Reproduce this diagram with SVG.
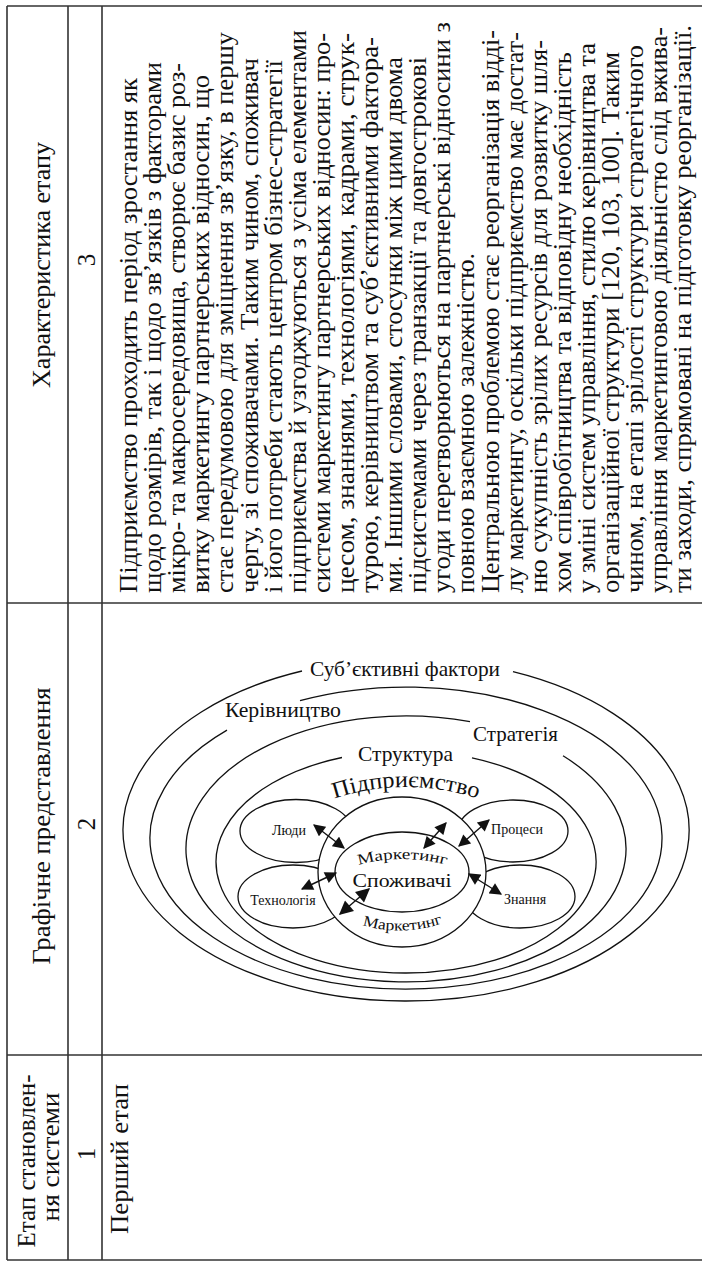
<svg xmlns="http://www.w3.org/2000/svg" width="702" height="1261" viewBox="0 0 702 1261">
  <style>
    .grid { stroke: #333; stroke-width: 1.6; fill: none; }
    .t { font-family: 'Liberation Serif', 'Times New Roman', serif; fill: #111; }
    .body { font-size: 25px; }
    .hdr { font-size: 25px; }
    .ring { fill: none; stroke: #111; stroke-width: 1.3; }
    .blob { fill: #fff; stroke: #111; stroke-width: 1.3; }
    .lbl { font-family: 'Liberation Serif', 'Times New Roman', serif; fill: #111; }
    .arrow { stroke: #111; stroke-width: 1.4; fill: none; marker-start: url(#head); marker-end: url(#head); }
    .arrow-big { stroke: #111; stroke-width: 1.4; fill: none; marker-start: url(#headBig); marker-end: url(#headBig); }
  </style>
  <defs>
    <marker id="head" viewBox="0 0 10 10" refX="9" refY="5" markerUnits="userSpaceOnUse" markerWidth="13" markerHeight="12" orient="auto-start-reverse">
      <path d="M0,0 L10,5 L0,10 z" fill="#111"/>
    </marker>
    <marker id="headBig" viewBox="0 0 10 10" refX="9" refY="5" markerUnits="userSpaceOnUse" markerWidth="15" markerHeight="14" orient="auto-start-reverse">
      <path d="M0,0 L10,5 L0,10 z" fill="#111"/>
    </marker>
    <path id="arcEnterprise" d="M330,800 Q405,774 482,800"/>
    <path id="arcMarkTop" d="M355,866 Q402,852 450,866"/>
    <path id="arcMarkBottom" d="M359,924 Q402,938 446,922"/>
  </defs>

  <!-- table frame -->
  <g id="table-grid" class="grid">
    <line x1="7" y1="6" x2="702" y2="6"/>
    <line x1="7" y1="6" x2="7" y2="1260"/>
    <line x1="68" y1="6" x2="68" y2="1260"/>
    <line x1="102" y1="6" x2="102" y2="1260"/>
    <line x1="7" y1="603" x2="702" y2="603"/>
    <line x1="7" y1="1055" x2="702" y2="1055"/>
    <line x1="7" y1="1260" x2="702" y2="1260"/>
  </g>

  <!-- header row (rotated) -->
  <g id="headers" class="t hdr" text-anchor="middle">
    <text transform="translate(50,265) rotate(-90)" textLength="246" lengthAdjust="spacingAndGlyphs">Характеристика етапу</text>
    <text transform="translate(50,826) rotate(-90)" textLength="277" lengthAdjust="spacingAndGlyphs">Графічне представлення</text>
    <text transform="translate(35,1161) rotate(-90)" textLength="173" lengthAdjust="spacingAndGlyphs">Етап становлен-</text>
    <text transform="translate(59,1157) rotate(-90)" textLength="129" lengthAdjust="spacingAndGlyphs">ня системи</text>
  </g>

  <!-- column numbers -->
  <g id="numbers" class="t hdr" text-anchor="middle">
    <text transform="translate(95,260) rotate(-90)">3</text>
    <text transform="translate(95,824) rotate(-90)">2</text>
    <text transform="translate(95,1154) rotate(-90)">1</text>
  </g>

  <!-- stage name -->
  <g id="stage" class="t body">
    <text transform="translate(128,1234) rotate(-90)" textLength="150" lengthAdjust="spacingAndGlyphs">Перший етап</text>
  </g>

  <!-- stage description -->
  <g id="description" class="t body">
    <text transform="translate(137,593) rotate(-90)" textLength="515" lengthAdjust="spacingAndGlyphs">Підприємство проходить період зростання як</text>
    <text transform="translate(161.1,593) rotate(-90)" textLength="531" lengthAdjust="spacingAndGlyphs">щодо розмірів, так і щодо зв’язків з факторами</text>
    <text transform="translate(185.2,593) rotate(-90)" textLength="530" lengthAdjust="spacingAndGlyphs">мікро- та макросередовища, створює базис роз-</text>
    <text transform="translate(209.3,593) rotate(-90)" textLength="518" lengthAdjust="spacingAndGlyphs">витку маркетингу партнерських відносин, що</text>
    <text transform="translate(233.4,593) rotate(-90)" textLength="561" lengthAdjust="spacingAndGlyphs">стає передумовою для зміцнення зв’язку, в першу</text>
    <text transform="translate(257.5,593) rotate(-90)" textLength="535" lengthAdjust="spacingAndGlyphs">чергу, зі споживачами. Таким чином, споживач</text>
    <text transform="translate(281.6,593) rotate(-90)" textLength="533" lengthAdjust="spacingAndGlyphs">і його потреби стають центром бізнес-стратегії</text>
    <text transform="translate(305.7,593) rotate(-90)" textLength="563" lengthAdjust="spacingAndGlyphs">підприємства й узгоджуються з усіма елементами</text>
    <text transform="translate(329.8,593) rotate(-90)" textLength="560" lengthAdjust="spacingAndGlyphs">системи маркетингу партнерських відносин: про-</text>
    <text transform="translate(353.9,593) rotate(-90)" textLength="560" lengthAdjust="spacingAndGlyphs">цесом, знаннями, технологіями, кадрами, струк-</text>
    <text transform="translate(378,593) rotate(-90)" textLength="556" lengthAdjust="spacingAndGlyphs">турою, керівництвом та суб’єктивними фактора-</text>
    <text transform="translate(402.1,593) rotate(-90)" textLength="536" lengthAdjust="spacingAndGlyphs">ми. Іншими словами, стосунки між цими двома</text>
    <text transform="translate(426.2,593) rotate(-90)" textLength="536" lengthAdjust="spacingAndGlyphs">підсистемами через транзакції та довгострокові</text>
    <text transform="translate(450.3,593) rotate(-90)" textLength="571" lengthAdjust="spacingAndGlyphs">угоди перетворюються на партнерські відносини з</text>
    <text transform="translate(474.4,593) rotate(-90)" textLength="340" lengthAdjust="spacingAndGlyphs">повною взаємною залежністю.</text>
    <text transform="translate(498.5,593) rotate(-90)" textLength="563" lengthAdjust="spacingAndGlyphs">Центральною проблемою стає реорганізація відді-</text>
    <text transform="translate(522.6,593) rotate(-90)" textLength="561" lengthAdjust="spacingAndGlyphs">лу маркетингу, оскільки підприємство має достат-</text>
    <text transform="translate(546.7,593) rotate(-90)" textLength="553" lengthAdjust="spacingAndGlyphs">ню сукупність зрілих ресурсів для розвитку шля-</text>
    <text transform="translate(570.8,593) rotate(-90)" textLength="541" lengthAdjust="spacingAndGlyphs">хом співробітництва та відповідну необхідність</text>
    <text transform="translate(594.9,593) rotate(-90)" textLength="550" lengthAdjust="spacingAndGlyphs">у зміні систем управління, стилю керівництва та</text>
    <text transform="translate(619,593) rotate(-90)" textLength="541" lengthAdjust="spacingAndGlyphs">організаційної структури [120, 103, 100]. Таким</text>
    <text transform="translate(643.1,593) rotate(-90)" textLength="548" lengthAdjust="spacingAndGlyphs">чином, на етапі зрілості структури стратегічного</text>
    <text transform="translate(667.2,593) rotate(-90)" textLength="566" lengthAdjust="spacingAndGlyphs">управління маркетинговою діяльністю слід вжива-</text>
    <text transform="translate(691.3,593) rotate(-90)" textLength="568" lengthAdjust="spacingAndGlyphs">ти заходи, спрямовані на підготовку реорганізації.</text>
  </g>

  <!-- nested system diagram -->
  <g id="subjective-factors">
    <path class="ring" d="M513,671.7 A283,171 0 1 1 302,671"/>
    <text class="lbl" x="310" y="676" font-size="21" textLength="190" lengthAdjust="spacingAndGlyphs">Суб’єктивні фактори</text>
  </g>
  <g id="management">
    <path class="ring" d="M300,700.6 A256,151 0 1 1 227,730.1"/>
    <text class="lbl" x="225" y="717" font-size="21" textLength="116" lengthAdjust="spacingAndGlyphs">Керівництво</text>
  </g>
  <g id="strategy">
    <path class="ring" d="M563,755.8 A220,133 0 1 1 470,721.7"/>
    <text class="lbl" x="473" y="741" font-size="21" textLength="85" lengthAdjust="spacingAndGlyphs">Стратегія</text>
  </g>
  <g id="structure">
    <path class="ring" d="M472,757.9 A190,111 0 1 1 342,757.5"/>
    <text class="lbl" x="358" y="761" font-size="21" textLength="95" lengthAdjust="spacingAndGlyphs">Структура</text>
  </g>
  <g id="enterprise">
    <text class="lbl" font-size="23"><textPath href="#arcEnterprise" startOffset="50%" text-anchor="middle" textLength="146" lengthAdjust="spacingAndGlyphs">Підприємство</textPath></text>
  </g>

  <g id="people">
    <ellipse class="blob" cx="296" cy="831" rx="56" ry="31.5"/>
    <text class="lbl" x="289" y="835" font-size="14" text-anchor="middle">Люди</text>
  </g>
  <g id="processes">
    <ellipse class="blob" cx="513" cy="831" rx="55" ry="31"/>
    <text class="lbl" x="517" y="834" font-size="14" text-anchor="middle">Процеси</text>
  </g>
  <g id="technology">
    <ellipse class="blob" cx="293" cy="896.5" rx="55" ry="31.5"/>
    <text class="lbl" x="283" y="905" font-size="14" text-anchor="middle">Технологія</text>
  </g>
  <g id="knowledge">
    <ellipse class="blob" cx="520" cy="896.5" rx="55" ry="31.5"/>
    <text class="lbl" x="525" y="904" font-size="14" text-anchor="middle">Знання</text>
  </g>

  <g id="marketing">
    <ellipse class="blob" cx="402" cy="872" rx="84" ry="75"/>
    <text class="lbl" font-size="15"><textPath href="#arcMarkBottom" startOffset="50%" text-anchor="middle" textLength="82" lengthAdjust="spacingAndGlyphs">Маркетинг</textPath></text>
  </g>
  <g id="consumers">
    <ellipse class="blob" cx="402" cy="872" rx="67" ry="40"/>
    <text class="lbl" font-size="15"><textPath href="#arcMarkTop" startOffset="50%" text-anchor="middle" textLength="89" lengthAdjust="spacingAndGlyphs">Маркетинг</textPath></text>
    <text class="lbl" x="402" y="887" font-size="19" text-anchor="middle" textLength="99" lengthAdjust="spacingAndGlyphs">Споживачі</text>
  </g>

  <!-- two-way links -->
  <g id="connectors">
    <line class="arrow" x1="314" y1="825" x2="344" y2="848"/>
    <line class="arrow" x1="302" y1="889" x2="336" y2="873"/>
    <line class="arrow-big" x1="340" y1="914" x2="369" y2="889"/>
    <line class="arrow" x1="424" y1="848" x2="446" y2="823"/>
    <line class="arrow" x1="459" y1="846" x2="489" y2="820"/>
    <line class="arrow" x1="469" y1="874" x2="501" y2="894"/>
  </g>
</svg>
